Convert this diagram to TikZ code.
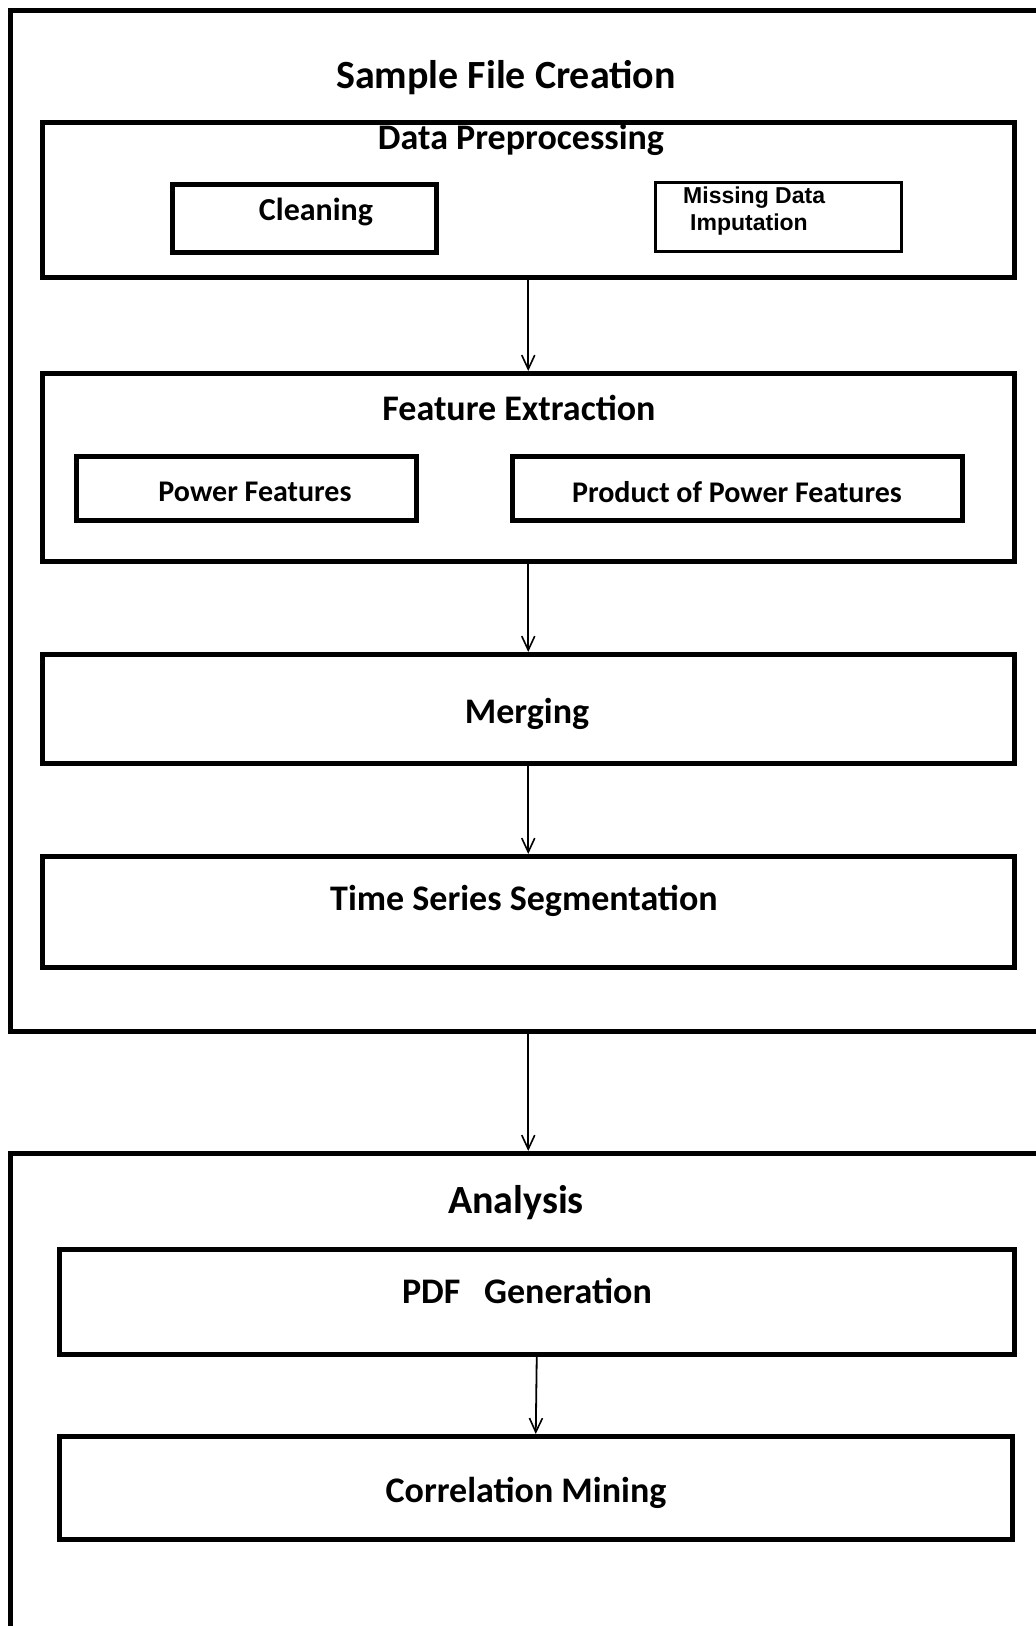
\documentclass[tikz,border=0pt]{standalone}
\usepackage{fontspec}
\setmainfont{Carlito}
\newfontfamily\arialfont{Liberation Sans}
\usetikzlibrary{arrows.meta}
\begin{document}
\begin{tikzpicture}[x=1pt,y=-1pt,
  box/.style={draw, line width=4.5pt, inner sep=0pt, anchor=north west},
  lbl/.style={font=\bfseries\fontsize{36}{43}\selectfont, inner sep=0pt},
  ttl/.style={font=\bfseries\fontsize{40}{48}\selectfont, inner sep=0pt},
  sml/.style={font=\bfseries\fontsize{30}{36}\selectfont, inner sep=0pt},
  flow/.style={line width=1.8pt, -{Straight Barb[length=14pt,width=13pt,line width=1.6pt]}}]
\useasboundingbox (0,0) rectangle (1036,1626);
\fill[white] (0,0) rectangle (1036,1626);
\clip (0,0) rectangle (1036,1626);

% outer group 1
\node[box, minimum width=1070pt, minimum height=1021pt] (sfc) at (8,8) {};
\node[ttl] (sfct) at (506,78) {Sample File Creation};

% data preprocessing
\node[box, minimum width=972pt, minimum height=155pt] (dp) at (40,120) {};
\node[lbl] (dpt) at (521,140) {Data Preprocessing};
\node[box, minimum width=264pt, minimum height=68pt] (cl) at (170,182) {};
\node[font=\bfseries\fontsize{32}{38}\selectfont, inner sep=0pt] (clt) at (316,212) {Cleaning};
\node[box, line width=3pt, minimum width=246pt, minimum height=69pt] (md) at (654,181) {};
\node[font=\arialfont\bfseries\fontsize{23}{27}\selectfont, align=left, anchor=west, inner sep=0pt] (mdt) at (683,211) {Missing Data\\\hspace{7pt}Imputation};

% feature extraction
\node[box, minimum width=972pt, minimum height=188pt] (fe) at (40,371) {};
\node[lbl] (fet) at (519,408) {Feature Extraction};
\node[box, minimum width=340pt, minimum height=64pt] (pf) at (74,454) {};
\node[sml] (pft) at (255,492) {Power Features};
\node[box, minimum width=450pt, minimum height=64pt] (ppf) at (510,454) {};
\node[sml] (ppft) at (737,492) {Product of Power Features};

% merging
\node[box, minimum width=972pt, minimum height=109pt] (mg) at (40,652) {};
\node[lbl] (mgt) at (527,714) {Merging};

% time series segmentation
\node[box, minimum width=972pt, minimum height=111pt] (ts) at (40,854) {};
\node[lbl] (tst) at (524,901) {Time Series Segmentation};

% outer group 2
\node[box, minimum width=1070pt, minimum height=520pt] (an) at (8,1151) {};
\node[ttl] (ant) at (516,1203) {Analysis};

\node[box, minimum width=955pt, minimum height=105pt] (pdf) at (57,1247) {};
\node[lbl] (pdft) at (527,1291) {PDF\hspace{0.66em}Generation};
\node[box, minimum width=953pt, minimum height=103pt] (cm) at (57,1434) {};
\node[lbl] (cmt) at (526,1493) {Correlation Mining};

% connectors
\draw[flow] (dp.south) -- (fe.north);
\draw[flow] (fe.south) -- (mg.north);
\draw[flow] (mg.south) -- (ts.north);
\draw[flow] (sfc.south -| dp.south) -- (an.north -| dp.south);
\draw[flow] (pdf.south) -- (cm.north);
\end{tikzpicture}
\end{document}
